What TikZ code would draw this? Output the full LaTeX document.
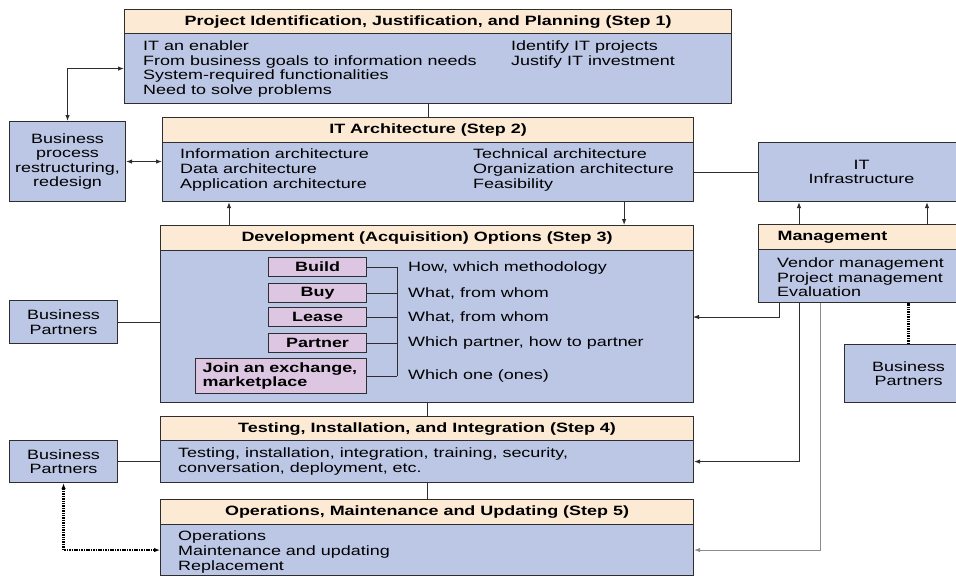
\documentclass[tikz,border=0pt]{standalone}
\usepackage{fontspec}
\setmainfont{Liberation Sans}[FakeStretch=1.33]
\usetikzlibrary{arrows.meta, positioning}

\definecolor{hdrpeach}{HTML}{FDEAD5}
\definecolor{bodyblue}{HTML}{BCC7E5}
\definecolor{optpink}{HTML}{DCC6E2}
\definecolor{edgegray}{HTML}{2E2E2E}
\definecolor{linegray}{HTML}{8C8C8C}

\tikzset{
  bodybox/.style={draw=edgegray, fill=bodyblue, line width=1.1pt, anchor=north west, inner sep=0pt,
    align=center, font=\fontsize{13.5}{14.3}\selectfont},
  hdr/.style={draw=edgegray, fill=hdrpeach, line width=1.1pt, anchor=north west, inner sep=0pt,
    minimum height=24pt, font=\bfseries\fontsize{13.5}{14}\selectfont},
  optbox/.style={draw=edgegray, fill=optpink, line width=1.1pt, anchor=north west, inner sep=0pt,
    minimum width=98pt, minimum height=19pt, font=\bfseries\fontsize{13.5}{14.5}\selectfont},
  txt/.style={anchor=north west, inner sep=0pt, align=left, font=\fontsize{13.5}{14.5}\selectfont},
  conn/.style={draw=edgegray, line width=0.9pt},
  dotconn/.style={draw=black, line width=2.4pt, dash pattern=on 1.5pt off 0.9pt}
}

\begin{document}
\begin{tikzpicture}[x=1pt, y=-1pt, >={Latex[length=6pt,width=4.5pt]}]
    \useasboundingbox (0,0) rectangle (956,576);
    \clip (0,0) rectangle (956,576);

    % step boxes
    \node[bodybox, minimum width=607pt, minimum height=70pt] (step1) at (124,33) {};
    \node[hdr, minimum width=607pt] (step1h) at (124,9) {Project Identification, Justification, and Planning (Step 1)};
    \node[txt] (step1l) at (143,41) {IT an enabler\\From business goals to information needs\\System-required functionalities\\Need to solve problems};
    \node[txt] (step1r) at (511,41) {Identify IT projects\\Justify IT investment};

    \node[bodybox, minimum width=531pt, minimum height=59pt] (step2) at (162,142) {};
    \node[hdr, minimum width=531pt, minimum height=25pt] (step2h) at (162,117) {IT Architecture (Step 2)};
    \node[txt, font=\fontsize{13.5}{15}\selectfont] (step2l) at (180,149) {Information architecture\\Data architecture\\Application architecture};
    \node[txt, font=\fontsize{13.5}{15}\selectfont] (step2r) at (473,149) {Technical architecture\\Organization architecture\\Feasibility};

    \node[bodybox, minimum width=533pt, minimum height=152pt] (step3) at (160,250) {};
    \node[hdr, minimum width=533pt, minimum height=25pt] (step3h) at (160,225) {Development (Acquisition) Options (Step 3)};

    \node[bodybox, minimum width=533pt, minimum height=42pt] (step4) at (160,440) {};
    \node[hdr, minimum width=533pt] (step4h) at (160,416) {Testing, Installation, and Integration (Step 4)};
    \node[txt] (step4l) at (178,448) {Testing, installation, integration, training, security,\\conversation, deployment, etc.};

    \node[bodybox, minimum width=533pt, minimum height=51pt] (step5) at (160,524) {};
    \node[hdr, minimum width=533pt, minimum height=25pt] (step5h) at (160,499) {Operations, Maintenance and Updating (Step 5)};
    \node[txt, font=\fontsize{13.5}{15}\selectfont] (step5l) at (178,531) {Operations\\Maintenance and updating\\Replacement};

    % acquisition options
    \node[optbox] (build) at (268,257) {Build};
    \node[optbox] (buy) at (268,283) {Buy};
    \node[optbox] (lease) at (268,307) {Lease};
    \node[optbox] (partner) at (268,333) {Partner};
    \node[optbox, minimum width=171pt, minimum height=35pt, text width=157pt, align=left, inner xsep=7pt] (join) at (195,358) {Join an exchange,\\marketplace};
    \coordinate (brktop) at (397,266.5);
    \coordinate (brkbot) at (397,375.5);
    \foreach \o in {build, buy, lease, partner, join} {
        \draw[conn] (\o.east) -- (\o.east -| brktop);
    };
    \draw[conn] (brktop) -- (brkbot);
    \node[txt, anchor=west] (howtxt) at (408,268.5) {How, which methodology};
    \node[txt, anchor=west] (buytxt) at (408,293.5) {What, from whom};
    \node[txt, anchor=west] (leasetxt) at (408,317.5) {What, from whom};
    \node[txt, anchor=west] (partnertxt) at (408,343.5) {Which partner, how to partner};
    \node[txt, anchor=west] (jointxt) at (408,375.5) {Which one (ones)};

    % side boxes
    \node[bodybox, minimum width=116pt, minimum height=80pt] (bpr) at (9,121) {Business\\process\\restructuring,\\redesign};
    \node[bodybox, minimum width=108pt, minimum height=43pt] (bpleft) at (9,300) {Business\\Partners};
    \node[bodybox, minimum width=108pt, minimum height=42pt] (bplow) at (9,440) {Business\\Partners};
    \node[bodybox, minimum width=206pt, minimum height=59pt] (infra) at (758,142) {IT\\Infrastructure};
    \node[bodybox, minimum width=206pt, minimum height=53pt] (mgmt) at (758,249) {};
    \node[hdr, minimum width=206pt, minimum height=25pt, text width=168pt, align=left, inner xsep=19pt] (mgmth) at (758,224) {Management};
    \node[txt] (mgmtl) at (777,258) {Vendor management\\Project management\\Evaluation};
    \node[bodybox, minimum width=128pt, minimum height=58pt] (bpright) at (844,344) {Business\\Partners};

    % connectors
    \draw[conn] (step1.south) -- (step2h.north);
    \draw[conn] (step3.south) -- (step4h.north);
    \draw[conn] (step4.south) -- (step5h.north);
    \draw[conn, <->] (bpr.north) |- (step1.west);
    \draw[conn, <->] (bpr.east) -- (bpr.east -| step2.west);
    \draw[conn] (step2.east) -- (infra.west);
    \draw[conn, ->] ([xshift=69pt]step3h.north west) -- ([xshift=67pt]step2.south west);
    \draw[conn, ->] ([xshift=-70pt]step2.south east) -- ([xshift=-70pt]step3h.north east);
    \draw[conn, ->] ([xshift=41pt]mgmth.north west) -- ([xshift=41pt]infra.south west);
    \draw[conn, ->] ([xshift=169pt]mgmth.north west) -- ([xshift=169pt]infra.south west);
    \coordinate (optin) at (693,317);
    \draw[conn, ->] ([xshift=21pt]mgmt.south west) |- (optin);
    \draw[conn, ->] ([xshift=41pt]mgmt.south west) |- (step4.east);
    \draw[conn, draw=linegray, ->] ([xshift=62pt]mgmt.south west) |- (step5.east);
    \draw[conn] (bpleft.east) -- (bpleft.east -| step3.west);
    \draw[conn] (bplow.east) -- (step4.west);
    \draw[dotconn, <->] (bplow.south) |- (step5.west);
    \draw[dotconn] (bpright.north) -- (bpright.north |- mgmt.south);
\end{tikzpicture}
\end{document}
